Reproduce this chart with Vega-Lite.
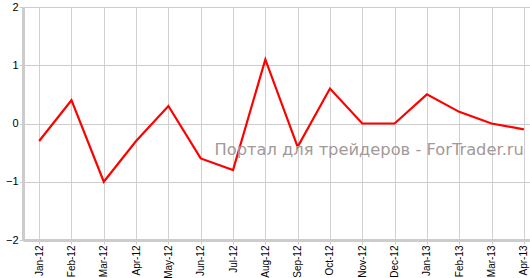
{
  "$schema": "https://vega.github.io/schema/vega-lite/v6.json",
  "width": 517,
  "height": 233,
  "autosize": {"type": "none"},
  "padding": {"left": 23, "top": 7, "right": 0, "bottom": 38},
  "background": "white",
  "config": {"view": {"stroke": null}},
  "datasets": {
    "series": [
      {"month": "Jan-12", "value": -0.3},
      {"month": "Feb-12", "value": 0.4},
      {"month": "Mar-12", "value": -1.0},
      {"month": "Apr-12", "value": -0.3},
      {"month": "May-12", "value": 0.3},
      {"month": "Jun-12", "value": -0.6},
      {"month": "Jul-12", "value": -0.8},
      {"month": "Aug-12", "value": 1.1},
      {"month": "Sep-12", "value": -0.4},
      {"month": "Oct-12", "value": 0.6},
      {"month": "Nov-12", "value": 0.0},
      {"month": "Dec-12", "value": 0.0},
      {"month": "Jan-13", "value": 0.5},
      {"month": "Feb-13", "value": 0.2},
      {"month": "Mar-13", "value": 0.0},
      {"month": "Apr-13", "value": -0.1}
    ],
    "watermark": [
      {"month": "Apr-13", "value": -0.45, "label": "Портал для трейдеров - ForTrader.ru"}
    ]
  },
  "encoding": {
    "x": {
      "field": "month",
      "type": "ordinal",
      "sort": null,
      "scale": {
        "type": "point",
        "padding": 0.5,
        "domain": ["Jan-12", "Feb-12", "Mar-12", "Apr-12", "May-12", "Jun-12", "Jul-12", "Aug-12", "Sep-12", "Oct-12", "Nov-12", "Dec-12", "Jan-13", "Feb-13", "Mar-13", "Apr-13"]
      },
      "axis": {
        "title": null,
        "labelAngle": -90,
        "labelAlign": "right",
        "labelBaseline": "middle",
        "labelFont": "Liberation Sans",
        "labelFontSize": 10,
        "labelColor": "#000000",
        "labelPadding": 1,
        "grid": true,
        "gridColor": "#d0d0d0",
        "gridWidth": 1,
        "domainColor": "#cccccc",
        "domainWidth": 3,
        "tickColor": "#cccccc",
        "tickSize": 4,
        "tickWidth": 1
      }
    },
    "y": {
      "field": "value",
      "type": "quantitative",
      "scale": {"domain": [-2, 2], "nice": false, "zero": false},
      "axis": {
        "title": null,
        "values": [-2, -1, 0, 1, 2],
        "format": "d",
        "labelFont": "Liberation Sans",
        "labelFontSize": 11,
        "labelColor": "#000000",
        "labelPadding": 1,
        "grid": true,
        "gridColor": "#cccccc",
        "gridWidth": 1,
        "domainColor": "#cccccc",
        "domainWidth": 3,
        "tickColor": "#cccccc",
        "tickSize": 4,
        "tickWidth": 1
      }
    }
  },
  "layer": [
    {
      "data": {"name": "series"},
      "mark": {"type": "line", "color": "#ff0000", "strokeWidth": 2.2}
    },
    {
      "data": {"name": "watermark"},
      "mark": {
        "type": "text",
        "align": "right",
        "baseline": "middle",
        "font": "DejaVu Sans",
        "fontSize": 16.3,
        "color": "#a39999"
      },
      "encoding": {"text": {"field": "label"}}
    }
  ]
}
